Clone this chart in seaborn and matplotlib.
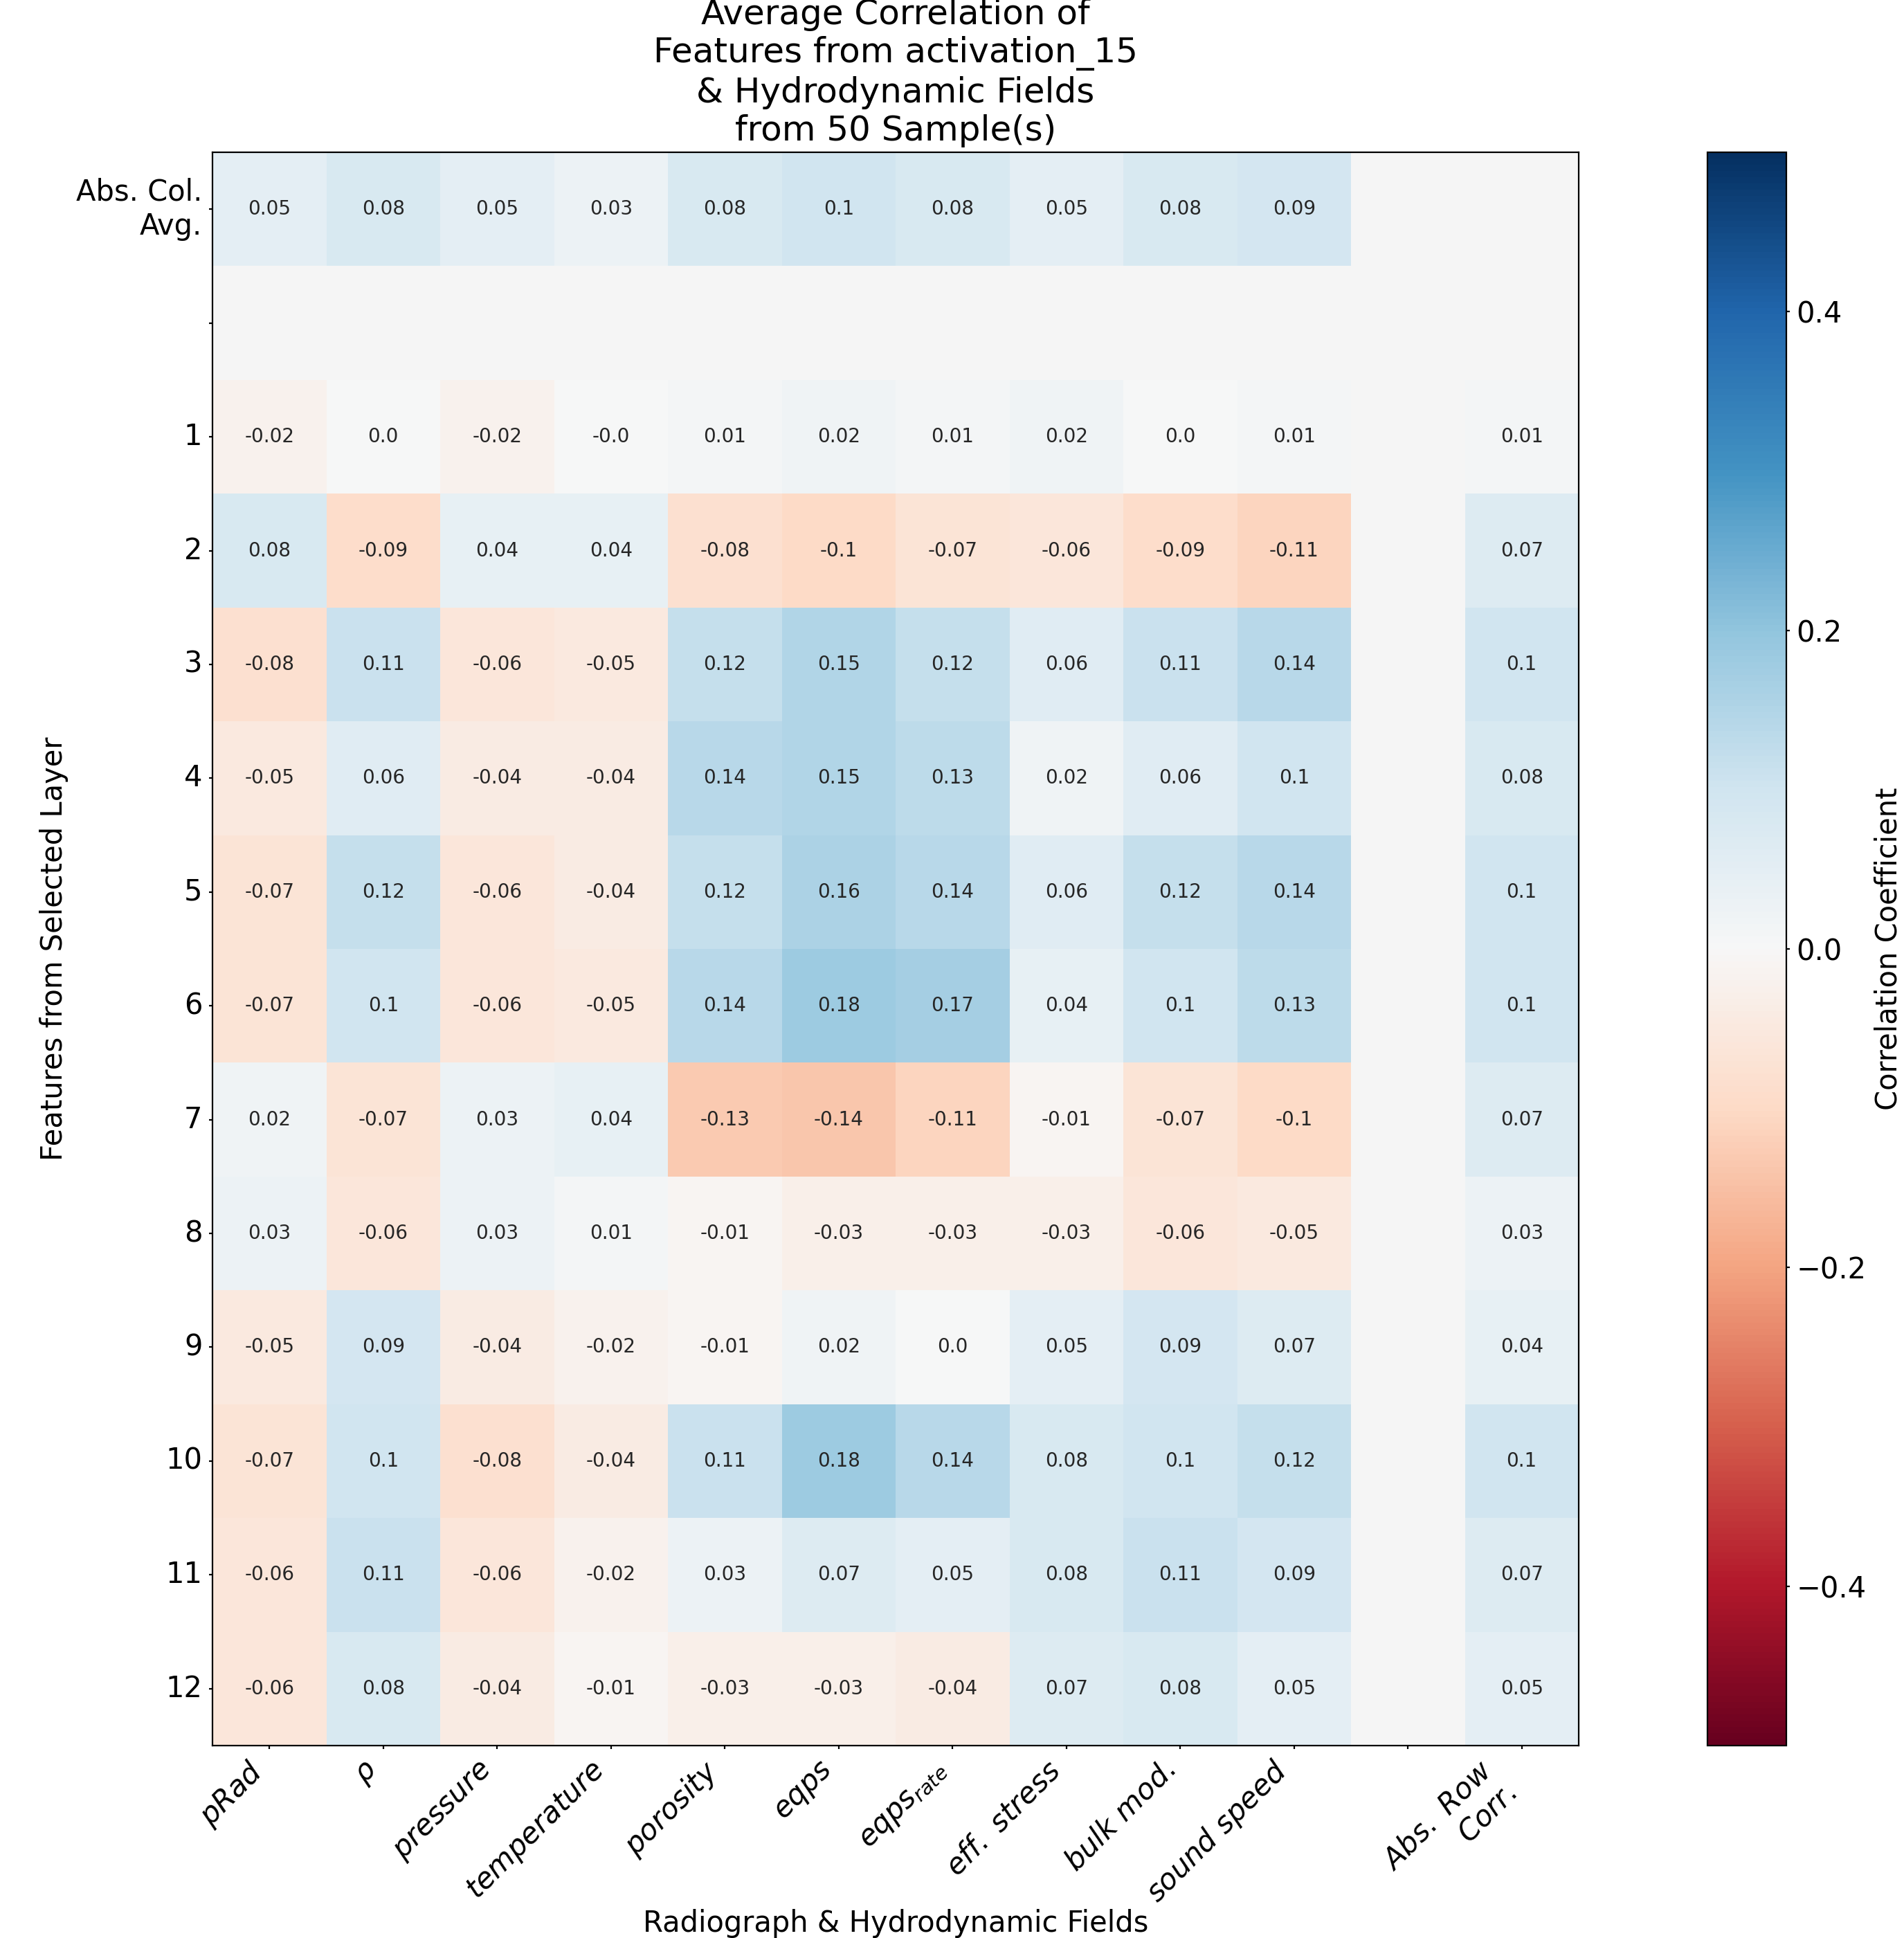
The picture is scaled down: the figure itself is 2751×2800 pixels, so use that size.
import numpy as np
import pandas as pd
import matplotlib
matplotlib.use("Agg")
import matplotlib.pyplot as plt
import seaborn as sns

fields = [r'$pRad$', r'$\rho$', r'$pressure$', r'$temperature$', r'$porosity$',
          r'$eqps$', r'$eqps_{rate}$', r'$eff.\ stress$', r'$bulk\ mod.$', r'$sound\ speed$']
row_names = ['Abs. Col.\nAvg.', ''] + [str(i) for i in range(1, 13)]

abs_col_avg = [0.05, 0.08, 0.05, 0.03, 0.08, 0.1, 0.08, 0.05, 0.08, 0.09]

layer_corr = [
    [-0.02, 0.0, -0.02, -0.0, 0.01, 0.02, 0.01, 0.02, 0.0, 0.01],
    [0.08, -0.09, 0.04, 0.04, -0.08, -0.1, -0.07, -0.06, -0.09, -0.11],
    [-0.08, 0.11, -0.06, -0.05, 0.12, 0.15, 0.12, 0.06, 0.11, 0.14],
    [-0.05, 0.06, -0.04, -0.04, 0.14, 0.15, 0.13, 0.02, 0.06, 0.1],
    [-0.07, 0.12, -0.06, -0.04, 0.12, 0.16, 0.14, 0.06, 0.12, 0.14],
    [-0.07, 0.1, -0.06, -0.05, 0.14, 0.18, 0.17, 0.04, 0.1, 0.13],
    [0.02, -0.07, 0.03, 0.04, -0.13, -0.14, -0.11, -0.01, -0.07, -0.1],
    [0.03, -0.06, 0.03, 0.01, -0.01, -0.03, -0.03, -0.03, -0.06, -0.05],
    [-0.05, 0.09, -0.04, -0.02, -0.01, 0.02, 0.0, 0.05, 0.09, 0.07],
    [-0.07, 0.1, -0.08, -0.04, 0.11, 0.18, 0.14, 0.08, 0.1, 0.12],
    [-0.06, 0.11, -0.06, -0.02, 0.03, 0.07, 0.05, 0.08, 0.11, 0.09],
    [-0.06, 0.08, -0.04, -0.01, -0.03, -0.03, -0.04, 0.07, 0.08, 0.05],
]

abs_row_corr = [0.01, 0.07, 0.1, 0.08, 0.1, 0.1, 0.07, 0.03, 0.04, 0.1, 0.07, 0.05]

# assemble grid: col avg row, blank row, layer rows; blank column, row corr column
nan = np.nan
grid = [abs_col_avg + [nan, nan], [nan] * 12]
for vals, rc in zip(layer_corr, abs_row_corr):
    grid.append(list(vals) + [nan, rc])
grid = np.array(grid, dtype=float)

annot = np.array([['' if np.isnan(v) else str(v) for v in row] for row in grid])

x_labels = fields + ['', r'$Abs.\ Row$' + '\n' + r'$Corr.$']
df = pd.DataFrame(grid, index=row_names, columns=range(12))

fig = plt.figure(figsize=(13.755, 14), dpi=200)
ax = fig.add_axes([307 / 2751, 1 - 2522 / 2800, 1974 / 2751, 2302 / 2800])
cax = fig.add_axes([2467 / 2751, 1 - 2522 / 2800, 114 / 2751, 2302 / 2800])

sns.heatmap(df, ax=ax, cbar_ax=cax, cmap='RdBu', vmin=-0.5, vmax=0.5,
            annot=annot, fmt='', annot_kws={'fontsize': 10},
            xticklabels=x_labels, yticklabels=row_names)
ax.set_facecolor('#f5f5f5')

for sp in ax.spines.values():
    sp.set_visible(True)
    sp.set_linewidth(0.8)
    sp.set_color('black')

ax.tick_params(length=1.75)
ax.set_xticklabels(x_labels, rotation=45, ha='right', fontsize=15)
ax.set_yticklabels(row_names, rotation=0, fontsize=15)
ax.set_xlabel('Radiograph & Hydrodynamic Fields', fontsize=15, labelpad=0)
ax.set_ylabel('Features from Selected Layer', fontsize=15)
ax.set_title('Average Correlation of\nFeatures from activation_15\n& Hydrodynamic Fields\nfrom 50 Sample(s)',
             fontsize=18)

cbar = ax.collections[0].colorbar
cbar.set_ticks([-0.4, -0.2, 0.0, 0.2, 0.4])
cbar.ax.tick_params(labelsize=15, length=1.75)
cbar.outline.set_linewidth(0.8)
cbar.outline.set_edgecolor('black')
cbar.set_label('Correlation Coefficient', fontsize=15)

fig.savefig('out.png', dpi=200)
